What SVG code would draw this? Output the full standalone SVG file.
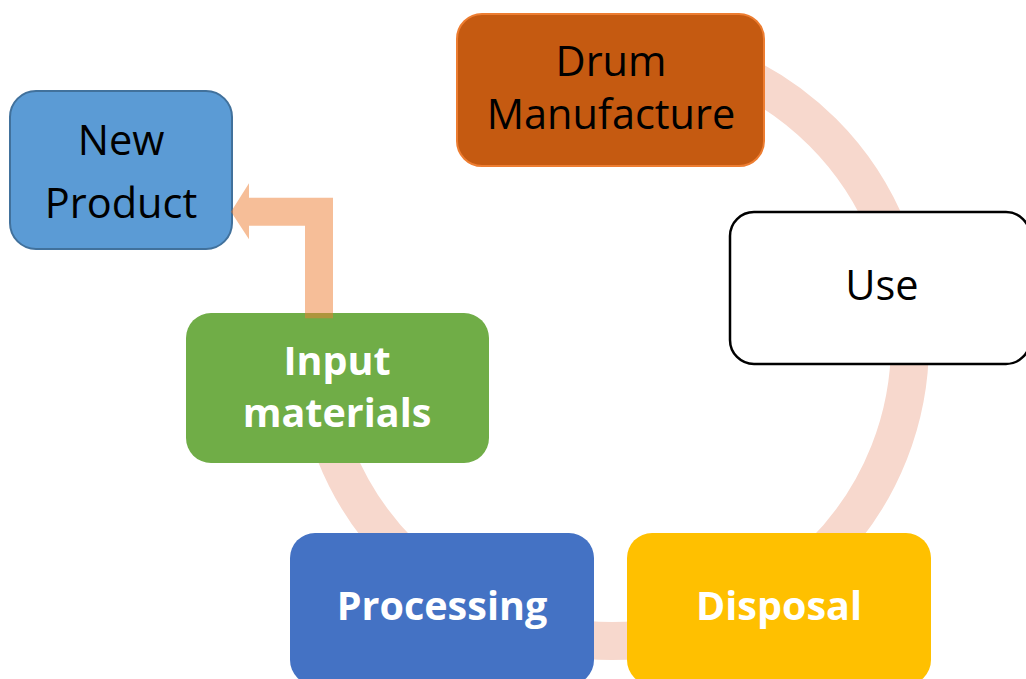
<svg xmlns="http://www.w3.org/2000/svg" width="1026" height="679" viewBox="0 0 1026 679">
<style>
.lbl{font-family:"Open Sans",Lato,"Liberation Sans",sans-serif;font-size:41.5px;text-anchor:middle}
.dark{fill:#000000}
.light{fill:#ffffff;font-weight:bold;font-size:39.5px}
</style>
<rect x="0" y="0" width="1026" height="679" fill="#ffffff"/>
<g id="connectors">
<path id="cycle-ring" d="M612,45 A298,298 0 1 1 314,343" fill="none" stroke="#f7d8cd" stroke-width="38"/>
</g>
<g id="node-drum">
<rect x="457" y="14" width="307" height="152" rx="25" fill="#c55a11" stroke="#ed7d31" stroke-width="2"/>
<text class="lbl dark" x="611" y="76">Drum</text>
<text class="lbl dark" x="611" y="129">Manufacture</text>
</g>
<g id="node-use">
<rect x="730" y="212" width="300" height="152" rx="24" fill="#ffffff" stroke="#000000" stroke-width="2.5"/>
<text class="lbl dark" x="882" y="300">Use</text>
</g>
<g id="node-disposal">
<rect x="627" y="533" width="304" height="152" rx="25" fill="#ffc000"/>
<text class="lbl light" x="779" y="620">Disposal</text>
</g>
<g id="node-processing">
<rect x="290" y="533" width="304" height="152" rx="25" fill="#4472c4"/>
<text class="lbl light" x="442" y="620">Processing</text>
</g>
<g id="node-input">
<rect x="186" y="313" width="303" height="150" rx="25" fill="#70ad47"/>
<text class="lbl light" x="337" y="375">Input</text>
<text class="lbl light" x="337" y="427">materials</text>
</g>
<g id="node-newproduct">
<rect x="10" y="91" width="222" height="158" rx="26" fill="#5b9bd5" stroke="#41719c" stroke-width="2"/>
<text class="lbl dark" x="121" y="155">New</text>
<text class="lbl dark" x="121" y="218">Product</text>
</g>
<g id="arrow-input-newproduct">
<path d="M231,211.7 L249,183.3 L249,197.7 L333,197.7 L333,318.3 L305,318.3 L305,225.7 L249,225.7 L249,239.3 Z" fill="#ed7d31" fill-opacity="0.5"/>
</g>
</svg>
